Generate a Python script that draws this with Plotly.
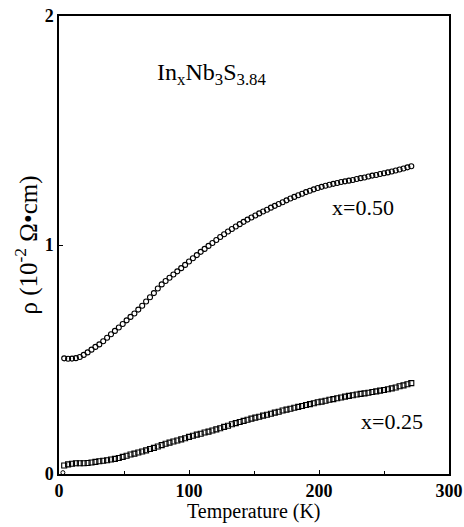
import plotly.graph_objects as go

# Temperatures (K) of the measured points
temperature = [4, 7, 10, 13, 16, 19, 22, 25, 28, 31, 34, 37, 40, 43, 46, 49, 52, 55, 58, 61,
               64, 67, 70, 73, 76, 79, 82, 85, 88, 91, 94, 97, 100, 103, 106, 109, 112, 115, 118, 121,
               124, 127, 130, 133, 136, 139, 142, 145, 148, 151, 154, 157, 160, 163, 166, 169, 172, 175, 178, 181,
               184, 187, 190, 193, 196, 199, 202, 205, 208, 211, 214, 217, 220, 223, 226, 229, 232, 235, 238, 241,
               244, 247, 250, 253, 256, 259, 262, 265, 268, 271]

# Resistivity (10^-2 Ohm cm), x = 0.50 (open circles)
rho_x050 = [0.505, 0.503, 0.504, 0.506, 0.511, 0.520, 0.531, 0.543, 0.555, 0.566,
            0.580, 0.595, 0.610, 0.625, 0.640, 0.655, 0.671, 0.686, 0.701, 0.718,
            0.735, 0.753, 0.772, 0.790, 0.810, 0.828, 0.843, 0.857, 0.871, 0.885,
            0.899, 0.913, 0.928, 0.942, 0.956, 0.970, 0.983, 0.996, 1.009, 1.022,
            1.035, 1.047, 1.059, 1.070, 1.081, 1.091, 1.101, 1.111, 1.120, 1.129,
            1.138, 1.146, 1.154, 1.163, 1.171, 1.179, 1.187, 1.195, 1.203, 1.210,
            1.217, 1.224, 1.231, 1.237, 1.243, 1.249, 1.254, 1.259, 1.263, 1.267,
            1.271, 1.275, 1.278, 1.281, 1.284, 1.288, 1.292, 1.295, 1.299, 1.303,
            1.306, 1.310, 1.313, 1.317, 1.321, 1.325, 1.330, 1.334, 1.339, 1.344]

# Resistivity (10^-2 Ohm cm), x = 0.25 (open squares)
rho_x025 = [0.037, 0.042, 0.045, 0.047, 0.047, 0.047, 0.048, 0.050, 0.053, 0.056,
            0.058, 0.060, 0.063, 0.066, 0.070, 0.075, 0.080, 0.085, 0.089, 0.094,
            0.098, 0.103, 0.109, 0.114, 0.120, 0.126, 0.132, 0.137, 0.142, 0.146,
            0.151, 0.156, 0.162, 0.167, 0.172, 0.176, 0.181, 0.185, 0.190, 0.195,
            0.200, 0.206, 0.211, 0.217, 0.222, 0.227, 0.232, 0.237, 0.242, 0.246,
            0.250, 0.255, 0.259, 0.263, 0.268, 0.272, 0.277, 0.281, 0.285, 0.289,
            0.293, 0.297, 0.301, 0.305, 0.309, 0.313, 0.316, 0.320, 0.324, 0.327,
            0.331, 0.334, 0.338, 0.341, 0.344, 0.347, 0.350, 0.352, 0.355, 0.358,
            0.361, 0.364, 0.367, 0.370, 0.374, 0.378, 0.383, 0.387, 0.392, 0.397]

# Lone point near the origin
extra_T = [3]
extra_rho = [0.006]

x_ticks = [0, 100, 200, 300]
y_ticks = [0, 1, 2]

SERIF = "Liberation Serif, Times New Roman, serif"

fig = go.Figure()
fig.add_trace(go.Scatter(x=temperature, y=rho_x050, mode="markers", name="x=0.50",
                         marker=dict(symbol="circle-open", size=5, color="black",
                                     line=dict(width=1.1, color="black"))))
fig.add_trace(go.Scatter(x=temperature, y=rho_x025, mode="markers", name="x=0.25",
                         marker=dict(symbol="square-open", size=5, color="black",
                                     line=dict(width=1.1, color="black"))))
fig.add_trace(go.Scatter(x=extra_T, y=extra_rho, mode="markers", showlegend=False,
                         marker=dict(symbol="circle-open", size=4, color="black",
                                     line=dict(width=1, color="black"))))

fig.add_annotation(x=117, y=1.745, text="In<sub>x</sub>Nb<sub>3</sub>S<sub>3.84</sub>",
                   showarrow=False, font=dict(family=SERIF, size=24, color="black"))
fig.add_annotation(x=234, y=1.165, text="x=0.50", showarrow=False,
                   font=dict(family=SERIF, size=22, color="black"))
fig.add_annotation(x=256, y=0.23, text="x=0.25", showarrow=False,
                   font=dict(family=SERIF, size=22, color="black"))
# x-axis title placed as a paper annotation to match the reference spacing
fig.add_annotation(x=0.5, y=-0.081, xref="paper", yref="paper", text="Temperature (K)",
                   showarrow=False, yanchor="middle",
                   font=dict(family=SERIF, size=20, color="black"))

fig.update_layout(
    width=464, height=527,
    margin=dict(l=59, r=15, t=16, b=53, autoexpand=False),
    paper_bgcolor="white", plot_bgcolor="white",
    showlegend=False,
    font=dict(family=SERIF, color="black"),
)
fig.update_xaxes(
    range=[0, 300], tickvals=x_ticks, ticktext=[f"<b>{v}</b>" for v in x_ticks],
    ticks="inside", ticklen=4, tickcolor="black",
    minor=dict(dtick=50, ticks="inside", ticklen=3, tickcolor="black"),
    showline=True, linecolor="black", linewidth=1.5, mirror=True,
    showgrid=False, zeroline=False, automargin=False,
    tickfont=dict(family=SERIF, size=18, color="black"),
)
fig.update_yaxes(
    range=[0, 2], tickvals=y_ticks, ticktext=[f"<b>{v}</b>" for v in y_ticks],
    ticks="inside", ticklen=4, tickcolor="black",
    showline=True, linecolor="black", linewidth=1.5, mirror=True,
    showgrid=False, zeroline=False, automargin=False,
    tickfont=dict(family=SERIF, size=18, color="black"),
    title=dict(text="ρ (10<sup>-2</sup> Ω•cm)", font=dict(family=SERIF, size=25, color="black"), standoff=0),
)

fig.write_html("out.html", config={"displayModeBar": False},
               post_script="document.body.style.margin='0';document.body.style.padding='0';")
